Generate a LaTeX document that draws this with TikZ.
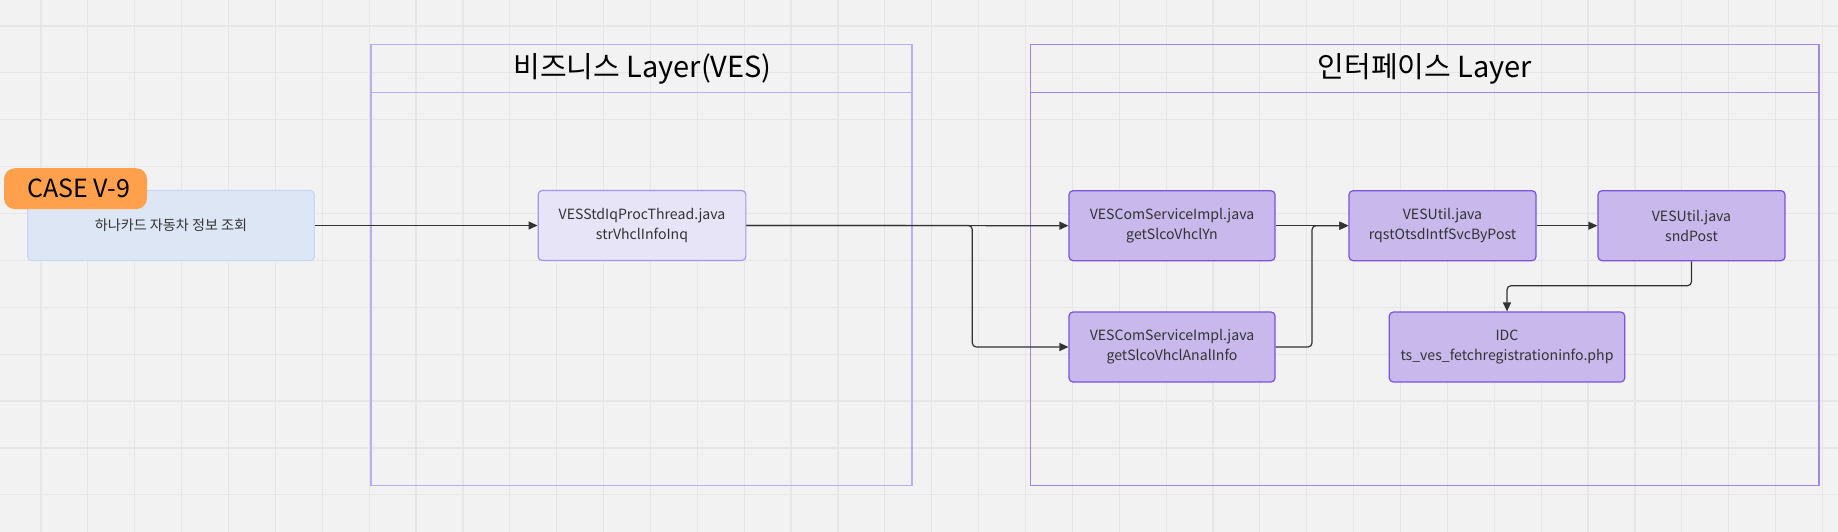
\documentclass[tikz,border=0pt]{standalone}
\usepackage{fontspec}
\setmainfont{Noto Sans CJK KR}
\usetikzlibrary{arrows.meta,calc}
\definecolor{bgc}{HTML}{F2F2F2}
\definecolor{gridc}{HTML}{E6E6E6}
\definecolor{bizline}{HTML}{B8AEF4}
\definecolor{ifline}{HTML}{A285E6}
\definecolor{nodefill}{HTML}{C8B8EC}
\definecolor{nodeline}{HTML}{7B52DE}
\definecolor{vesfill}{HTML}{E8E4F7}
\definecolor{vesline}{HTML}{A594F0}
\definecolor{hanafill}{HTML}{DDE6F5}
\definecolor{hanaline}{HTML}{C6D8F8}
\definecolor{casefill}{HTML}{FFA04C}
\definecolor{txt}{HTML}{333333}
\definecolor{arr}{HTML}{333333}
\tikzset{
  x=1pt,y=-1pt,
  basebox/.style={rectangle, rounded corners=4pt, line width=1.2pt, align=center, text=txt,
    font=\fontsize{14.1}{20}\selectfont, inner sep=0pt},
  ifnode/.style={basebox, fill=nodefill, draw=nodeline, minimum height=70pt},
  vesnode/.style={basebox, fill=vesfill, draw=vesline, minimum height=70pt},
  hananode/.style={basebox, fill=hanafill, draw=hanaline, minimum height=70pt},
  casenode/.style={rectangle, rounded corners=11pt, fill=casefill, draw=none, text=black,
    font=\fontsize{25}{30}\selectfont, inner sep=0pt, minimum width=143pt, minimum height=41pt},
  layertitle/.style={text=black, font=\fontsize{29}{34}\selectfont, inner sep=0pt},
  conn/.style={draw=arr, line width=1.2pt, rounded corners=4pt},
  arrowc/.style={conn, -{Triangle[length=9pt,width=8pt]}},
}
\begin{document}
\begin{tikzpicture}
% background
\fill[bgc] (0,0) rectangle (1838,532);
\useasboundingbox (0,0) rectangle (1838,532);
% grid
\foreach \k in {0,...,38} {
  \draw[gridc, line width=1.2pt] ({41+46.88*\k},0) -- ({41+46.88*\k},532);
}
\foreach \k in {0,...,11} {
  \draw[gridc, line width=1.2pt] (0,{26+46.88*\k}) -- (1838,{26+46.88*\k});
}
% layers
\draw[bizline, line width=1.5pt] (371,44.5) rectangle (912,485.5);
\draw[bizline, line width=1.5pt] (371,92.7) -- (912,92.7);
\node[layertitle] (biztitle) at (642.5,68.6) {비즈니스 Layer(VES)};
\draw[ifline, line width=1.5pt] (1030.7,44.5) rectangle (1819,485.5);
\draw[ifline, line width=1.5pt] (1030.7,92.7) -- (1819,92.7);
\node[layertitle] (iftitle) at (1424.8,68.6) {인터페이스 Layer};
% nodes
\node[hananode, minimum width=286.6pt] (hana) at (171,225.5) {하나카드 자동차 정보 조회};
\node[casenode] (case) at (75.5,188.7) {\hspace*{7pt}CASE V-9};
\node[vesnode, minimum width=207.7pt] (ves) at (642,225.5) {VESStdIqProcThread.java\\strVhclInfoInq};
\node[ifnode, minimum width=206pt] (csia) at (1172,225.7) {VESComServiceImpl.java\\getSlcoVhclYn};
\node[ifnode, minimum width=206pt] (csib) at (1172,347) {VESComServiceImpl.java\\getSlcoVhclAnalInfo};
\node[ifnode, minimum width=187pt] (utila) at (1442.5,225.7) {VESUtil.java\\rqstOtsdIntfSvcByPost};
\node[ifnode, minimum width=187pt] (utilb) at (1691.5,225.7) {VESUtil.java\\sndPost};
\node[ifnode, minimum width=235.5pt] (idc) at (1507,347) {IDC\\ts\_ves\_fetchregistrationinfo.php};
% helper coordinates
\coordinate (split) at (972.3,0);
\coordinate (merge) at (1312,0);
\coordinate (turn) at (0,285.7);
% connectors
\draw[arrowc] (hana.east) -- (ves.west);
\draw[arrowc] (ves.east) -- (csia.west);
\draw[arrowc] (ves.east) -- (ves.east -| split) -- (split |- csib.west) -- (csib.west);
\draw[arrowc] (csia.east) -- (utila.west);
\draw[arrowc] (csib.east) -- (csib.east -| merge) -- (merge |- utila.west) -- (utila.west);
\draw[arrowc] (utila.east) -- (utilb.west);
\draw[arrowc] (utilb.south) -- (utilb.south |- turn) -- (idc.north |- turn) -- (idc.north);
\end{tikzpicture}
\end{document}
